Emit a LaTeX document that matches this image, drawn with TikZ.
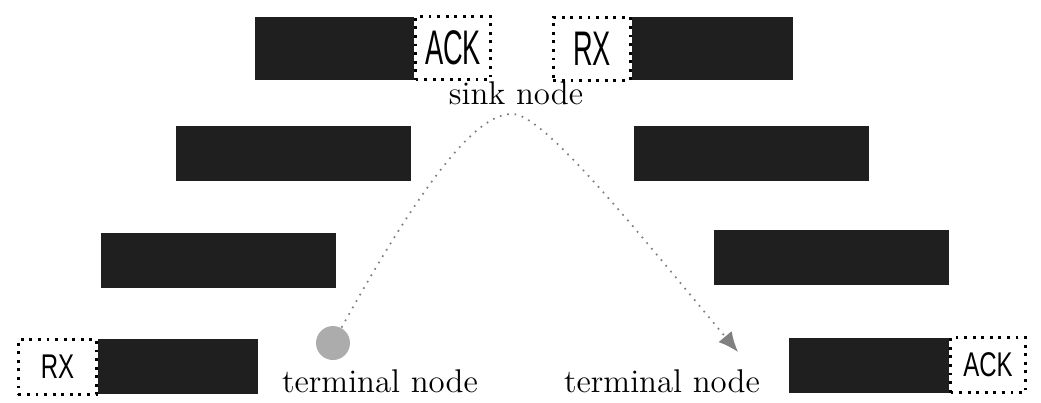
\documentclass[tikz,border=0pt]{standalone}
\usepackage{fontspec}
\newfontfamily\ctlfont{Liberation Sans}
\usetikzlibrary{positioning,arrows.meta}
\newcommand\pxl{0.35pt}

\begin{document}
\begin{tikzpicture}[x=0.35pt,y=-0.35pt,
        pkt/.style={fill=black!88, inner sep=0pt, minimum width=#1*\pxl},
        ctl/.style={draw, dotted, line width=1pt, inner sep=0pt, minimum width=#1*\pxl},
        big/.style={minimum height=63*\pxl, font=\ctlfont\fontsize{17}{17}\selectfont},
        small/.style={minimum height=55*\pxl, font=\ctlfont\fontsize{12}{12}\selectfont},
        nodetext/.style={inner sep=0pt, font=\fontsize{11.5}{13}\selectfont}]
        \useasboundingbox (0,0) rectangle (1041,402);

        % sink node
        \node [pkt=159, big, anchor=north west] (sinkdata1) at (254,16) {};
        \node [ctl=75, big, right=0pt of sinkdata1] (sinkack) {\scalebox{0.56}[1]{ACK}};
        \node [ctl=77, big, anchor=north west] (sinkrx) at (552,16) {\scalebox{0.56}[1]{RX}};
        \node [pkt=161, big, right=0pt of sinkrx] (sinkdata2) {};
        \node [nodetext] (sink) at (516,93) {sink node};

        % relay hops
        \node [pkt=235, small, anchor=north west] (hopL1) at (175,125) {};
        \node [pkt=235, small, anchor=north west] (hopL2) at (100,232) {};
        \node [pkt=235, small, anchor=north west] (hopR1) at (633,125) {};
        \node [pkt=235, small, anchor=north west] (hopR2) at (713,229) {};

        % terminal nodes
        \node [ctl=78, small, anchor=north west] (termrx) at (17,338) {\scalebox{0.7}[1]{RX}};
        \node [pkt=160, small, right=0pt of termrx] (termdataL) {};
        \node [pkt=160, small, anchor=north west] (termdataR) at (788,337) {};
        \node [ctl=75, small, right=0pt of termdataR] (termack) {\scalebox{0.7}[1]{ACK}};
        \node [nodetext] (termL) at (380,381) {terminal node};
        \node [nodetext] (termR) at (662,381) {terminal node};

        \node [circle, fill=gray!65, minimum size=34*\pxl, inner sep=0pt] (srcdot) at (333,343) {};
        \coordinate (dsttip) at (738,352);

        \draw [gray, dotted, line width=0.6pt, -{Latex[length=7pt,width=6pt]}]
            (srcdot) .. controls (440,150) and (485,113) .. (513,114)
            .. controls (545,115) and (640,235) .. (dsttip);
\end{tikzpicture}
\end{document}
